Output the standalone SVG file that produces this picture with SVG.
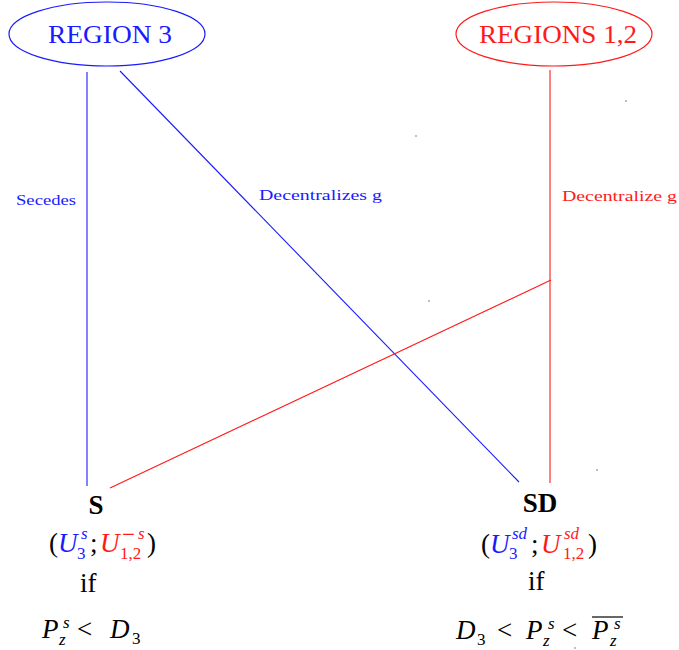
<svg xmlns="http://www.w3.org/2000/svg" width="679" height="650" viewBox="0 0 679 650" font-family="'Liberation Serif', 'Times New Roman', 'DejaVu Serif', serif">
<style>
.b{fill:#1a1aff;}
.r{fill:#ff1a1a;}
.k{fill:#000;}
.m{font-size:27px;}
.it{font-style:italic;}
.sc{font-size:17px;}
.lbl{font-size:15px;}
.bl{stroke:#1a1aff;stroke-width:1.1;fill:none;}
.rl{stroke:#ff1a1a;stroke-width:1.1;fill:none;}
</style>
<rect width="679" height="650" fill="#fff"/>
<g id="connectors">
  <line class="bl" x1="87" y1="72" x2="87" y2="486"/>
  <line class="bl" x1="120" y1="71" x2="519" y2="482"/>
  <line class="rl" x1="550" y1="70" x2="550" y2="483"/>
  <line class="rl" x1="551" y1="280" x2="110" y2="488"/>
  <text class="b lbl" x="16" y="205" textLength="60" lengthAdjust="spacingAndGlyphs">Secedes</text>
  <text class="b lbl" x="259" y="200" textLength="123" lengthAdjust="spacingAndGlyphs">Decentralizes g</text>
  <text class="r lbl" x="562" y="201" textLength="115" lengthAdjust="spacingAndGlyphs">Decentralize g</text>
</g>
<g id="region3">
  <ellipse cx="107" cy="34" rx="98" ry="32" fill="none" stroke="#1a1aff" stroke-width="1.2"/>
  <text class="b" x="48" y="43" font-size="26" textLength="124" lengthAdjust="spacingAndGlyphs">REGION 3</text>
</g>
<g id="regions12">
  <ellipse cx="554" cy="34" rx="98" ry="32" fill="none" stroke="#ff1a1a" stroke-width="1.2"/>
  <text class="r" x="479" y="43" font-size="26" textLength="158" lengthAdjust="spacingAndGlyphs">REGIONS 1,2</text>
</g>
<g id="S">
  <text class="k" x="96" y="514" font-size="27" font-weight="bold" text-anchor="middle">S</text>
  <text class="k m" x="49" y="552">(</text>
  <text class="b m it" x="58" y="552">U</text>
  <text class="b sc it" x="81" y="539">s</text>
  <text class="b sc" x="77" y="559">3</text>
  <text class="k m" x="90" y="552">;</text>
  <text class="r m it" x="100" y="552">U</text>
  <text class="r" x="122" y="542" font-size="23">−</text>
  <text class="r sc it" x="138" y="539">s</text>
  <text class="r sc" x="120" y="559">1,2</text>
  <text class="k m" x="147" y="552">)</text>
  <text class="k m" x="80" y="592">if</text>
  <text class="k m it" x="42" y="638">P</text>
  <text class="k sc it" x="63" y="628">s</text>
  <text class="k sc it" x="59" y="645">z</text>
  <text class="k m" x="77" y="638">&lt;</text>
  <text class="k m it" x="110" y="638">D</text>
  <text class="k sc" x="132" y="644">3</text>
</g>
<g id="SD">
  <text class="k" x="540" y="512" font-size="27" font-weight="bold" text-anchor="middle">SD</text>
  <text class="k m" x="481" y="553">(</text>
  <text class="b m it" x="490" y="553">U</text>
  <text class="b sc it" x="512" y="539">sd</text>
  <text class="b sc" x="509" y="559">3</text>
  <text class="k m" x="531" y="553">;</text>
  <text class="r m it" x="541" y="553">U</text>
  <text class="r sc it" x="564" y="539">sd</text>
  <text class="r sc" x="563" y="559">1,2</text>
  <text class="k m" x="588" y="553">)</text>
  <text class="k m" x="528" y="590">if</text>
  <text class="k m it" x="456" y="639">D</text>
  <text class="k sc" x="477" y="645">3</text>
  <text class="k m" x="497" y="639">&lt;</text>
  <text class="k m it" x="526" y="639">P</text>
  <text class="k sc it" x="548" y="629">s</text>
  <text class="k sc it" x="543" y="646">z</text>
  <text class="k m" x="562" y="639">&lt;</text>
  <line x1="592" y1="617" x2="623" y2="617" stroke="#000" stroke-width="1.2"/>
  <text class="k m it" x="592" y="639">P</text>
  <text class="k sc it" x="614" y="629">s</text>
  <text class="k sc it" x="610" y="646">z</text>
</g>
<g id="dots" fill="#000">
  <rect x="415.5" y="135.5" width="1" height="1"/>
  <rect x="625.5" y="100.5" width="1" height="1"/>
  <rect x="428.5" y="300.5" width="1" height="1"/>
  <rect x="596.5" y="469.5" width="1" height="1"/>
  <rect x="574.5" y="647.5" width="1" height="1"/>
</g>
</svg>
